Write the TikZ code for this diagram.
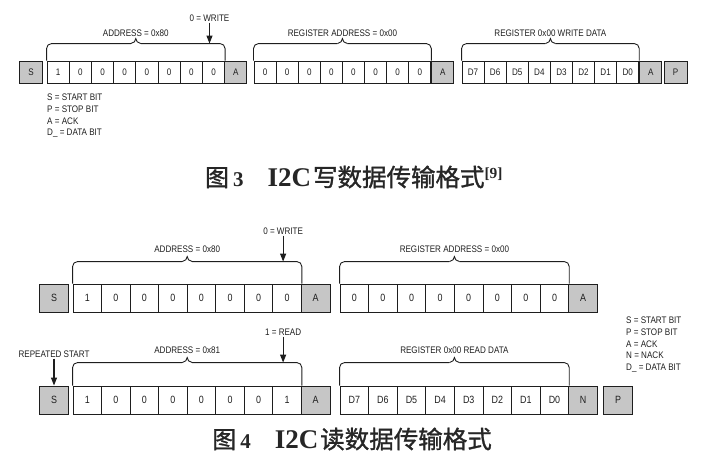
\documentclass[tikz,border=0pt]{standalone}
\usepackage{fontspec}
\newfontfamily\lblfont{Liberation Sans}[FakeStretch=0.85]
\newfontfamily\cjkfont{Noto Sans CJK SC}[FakeBold=1.2]
\newfontfamily\capfont{Liberation Serif}
\usetikzlibrary{positioning, calc, arrows.meta}
\definecolor{cellgray}{RGB}{198,198,198}
\definecolor{inkgray}{RGB}{30,30,30}

\tikzset{
  txt/.style={inner sep=1pt, text=inkgray, font=\lblfont\fontsize{9.5}{11.6}\selectfont},
  bit/.style={txt, draw=inkgray, line width=0.9pt, inner sep=0pt, minimum height=22pt, minimum width=22.2pt},
  flag/.style={bit, fill=cellgray},
  bigbit/.style={bit, minimum height=28pt, minimum width=28.6pt, font=\lblfont\fontsize{10.5}{12}\selectfont},
  bigflag/.style={bigbit, fill=cellgray},
  pointer/.style={draw=inkgray, line width=1.1pt, -{Triangle[length=8pt,width=6pt]}},
  brace/.style={draw=inkgray, line width=0.9pt, rounded corners=5pt},
  captext/.style={inner sep=0pt, text=black!85, font=\capfont\bfseries\fontsize{22}{22}\selectfont},
}

% brace over the bit cells #1..#2: leg #3, label #4, name #5, label gap #6
\newcommand{\bitbrace}[6]{%
  \coordinate (#5-l) at ($(#1.north west)+(0,-#3)$);
  \coordinate (#5-r) at ($(#2.north east)+(0,-#3)$);
  \coordinate (#5-m) at ($(#5-l)!0.5!(#5-r)$);
  \draw[brace] (#1.north west) -- (#5-l) -- ($(#5-m)+(-5,0)$);
  \draw[brace] ($(#5-m)+(5,0)$) -- (#5-r) -- (#2.north east);
  \draw[draw=inkgray, line width=0.9pt] ($(#5-m)+(-5,0)$) .. controls +(3,0) and +(0,2) .. ($(#5-m)+(0,-5)$)
        .. controls +(0,2) and +(-3,0) .. ($(#5-m)+(5,0)$);
  \node[txt, above=#6 of #5-m] (#5) {#4};
}

\begin{document}
\begin{tikzpicture}[x=1pt, y=-1pt]
  \useasboundingbox (0,0) rectangle (703,472);

  % write frame
  \node[flag] (w-s) at (31,72) {S};
  \foreach \v [count=\i] in {1,0,0,0,0,0,0,0}
    \node[bit] (wa-\i) at ({58.1+22.2*(\i-1)},72) {\v};
  \node[flag] (wa-ack) at (235.7,72) {A};
  \foreach \v [count=\i] in {0,0,0,0,0,0,0,0}
    \node[bit] (wr-\i) at ({265.05+22.1*(\i-1)},72) {\v};
  \node[flag, minimum width=22.1pt] (wr-ack) at (442.85,72) {A};
  \foreach \v [count=\i] in {D7,D6,D5,D4,D3,D2,D1,D0}
    \node[bit, minimum width=22.1pt] (wd-\i) at ({473.05+22.1*(\i-1)},72) {\v};
  \node[flag, minimum width=22.1pt] (wd-ack) at (650.85,72) {A};
  \node[flag, minimum width=23pt] (w-p) at (675.5,72) {P};

  \bitbrace{wa-1}{wa-8}{17}{ADDRESS = 0x80}{wa-br}{6pt}
  \bitbrace{wr-1}{wr-8}{17}{REGISTER ADDRESS = 0x00}{wr-br}{6pt}
  \bitbrace{wd-1}{wd-8}{17}{REGISTER 0x00 WRITE DATA}{wd-br}{6pt}

  \coordinate (w-hit) at ($(wa-8.north)+(-4,-17)$);
  \node[txt, above=21pt of w-hit] (w-write) {0 = WRITE};
  \draw[pointer] (w-write) -- (w-hit);

  \node[txt, align=left, anchor=north west] (w-key) at (46,93)
    {S = START BIT\\P = STOP BIT\\A = ACK\\D\_ = DATA BIT};

  \node[captext] (cap3) at (354,177) {{\cjkfont\mdseries\fontsize{24}{24}\selectfont 图}\hspace{4pt}{\fontsize{21}{21}\selectfont 3}\hspace{24pt}{\fontsize{27}{27}\selectfont I2C}\hspace{2pt}{\cjkfont\mdseries\fontsize{24.5}{25}\selectfont 写数据传输格式}\textsuperscript{[9]}};

  % read frame
  \node[bigflag] (r-s1) at (54,298) {S};
  \foreach \v [count=\i] in {1,0,0,0,0,0,0,0}
    \node[bigbit, minimum width=28.55pt] (ra-\i) at ({87.275+28.55*(\i-1)},298) {\v};
  \node[bigflag, minimum width=28.55pt] (ra-ack) at (315.675,298) {A};
  \foreach \v [count=\i] in {0,0,0,0,0,0,0,0}
    \node[bigbit] (rr-\i) at ({354.3+28.6*(\i-1)},298) {\v};
  \node[bigflag] (rr-ack) at (583.1,298) {A};

  \node[bigflag] (r-s2) at (54,400) {S};
  \foreach \v [count=\i] in {1,0,0,0,0,0,0,1}
    \node[bigbit, minimum width=28.55pt] (rb-\i) at ({87.275+28.55*(\i-1)},400) {\v};
  \node[bigflag, minimum width=28.55pt] (rb-ack) at (315.675,400) {A};
  \foreach \v [count=\i] in {D7,D6,D5,D4,D3,D2,D1,D0}
    \node[bigbit] (rd-\i) at ({354.3+28.6*(\i-1)},400) {\v};
  \node[bigflag] (rd-nack) at (583.1,400) {N};
  \node[bigflag, minimum width=29.4pt] (r-p) at (618,400) {P};

  \bitbrace{ra-1}{ra-8}{22}{ADDRESS = 0x80}{ra-br}{8pt}
  \bitbrace{rr-1}{rr-8}{22}{REGISTER ADDRESS = 0x00}{rr-br}{8pt}
  \bitbrace{rb-1}{rb-8}{23}{ADDRESS = 0x81}{rb-br}{8pt}
  \bitbrace{rd-1}{rd-8}{23}{REGISTER 0x00 READ DATA}{rd-br}{8pt}

  \coordinate (r-hit1) at ($(ra-8.north)+(-4,-22)$);
  \node[txt, above=26pt of r-hit1] (r-write) {0 = WRITE};
  \draw[pointer] (r-write) -- (r-hit1);
  \coordinate (r-hit2) at ($(rb-8.north)+(-4,-23)$);
  \node[txt, above=26pt of r-hit2] (r-read) {1 = READ};
  \draw[pointer] (r-read) -- (r-hit2);

  \node[txt, above=27pt of r-s2] (r-rep) {REPEATED START};
  \draw[pointer] (r-rep) -- (r-s2);

  \node[txt, align=left, anchor=north west] (r-key) at (625,316)
    {S = START BIT\\P = STOP BIT\\A = ACK\\N = NACK\\D\_ = DATA BIT};

  \node[captext] (cap4) at (352,439) {{\cjkfont\mdseries\fontsize{24}{24}\selectfont 图}\hspace{4pt}{\fontsize{21}{21}\selectfont 4}\hspace{24pt}{\fontsize{27}{27}\selectfont I2C}\hspace{2pt}{\cjkfont\mdseries\fontsize{24.5}{25}\selectfont 读数据传输格式}};
\end{tikzpicture}
\end{document}
